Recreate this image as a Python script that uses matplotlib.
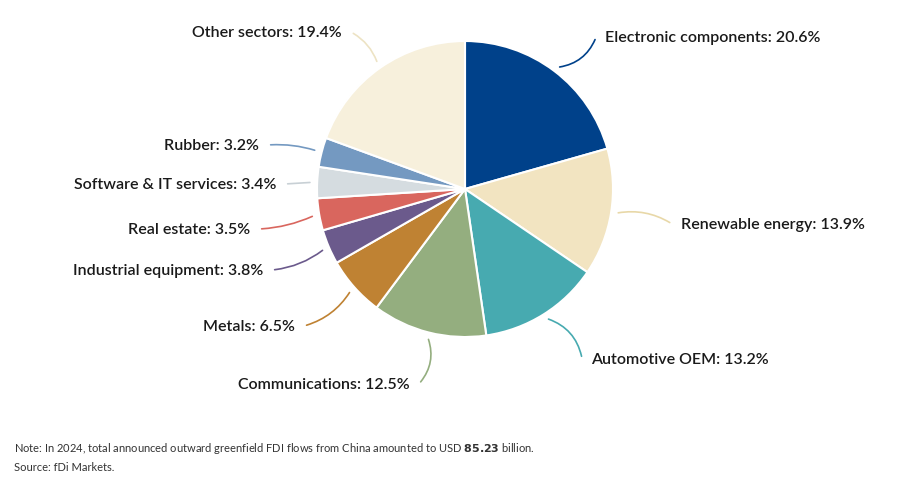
import numpy as np
import matplotlib.pyplot as plt

plt.rcParams['font.family'] = ['Lato', 'DejaVu Sans']

sectors = ['Electronic components', 'Renewable energy', 'Automotive OEM', 'Communications',
           'Metals', 'Industrial equipment', 'Real estate', 'Software & IT services',
           'Rubber', 'Other sectors']
shares = [20.6, 13.9, 13.2, 12.5, 6.5, 3.8, 3.5, 3.4, 3.2, 19.4]
colors = ['#00418A', '#F2E4C1', '#47AAB0', '#94AE7F', '#BF8233', '#6B5A8C',
          '#D9665E', '#D5DCE0', '#7499C1', '#F7F0DC']
line_colors = ['#00418A', '#E8D8A8', '#47AAB0', '#94AE7F', '#BF8233', '#6B5A8C',
               '#D9665E', '#C8D0D5', '#7499C1', '#EDE3C4']
# label anchor (pixels), alignment, connector curvature
label_px = [(605, 38, 'left', 0.3), (681, 225, 'left', -0.2), (591, 360, 'left', -0.3),
            (410, 385, 'right', -0.3), (295, 327, 'right', -0.2), (263, 271, 'right', -0.15),
            (250, 230, 'right', -0.1), (276, 185, 'right', 0.0), (259, 146, 'right', 0.1),
            (342, 33, 'right', 0.2)]

W, H, R = 907, 481, 148
cx, cy = 465, 190

def px(x, y):
    return (x - cx) / R, (cy - y) / R

fig = plt.figure(figsize=(9.07, 4.81), dpi=100)
ax = fig.add_axes([0, 0, 1, 1])

wedges, _ = ax.pie(shares, colors=colors, startangle=90, counterclock=False,
                   radius=1, wedgeprops=dict(edgecolor='white', linewidth=1.5))
ax.set_aspect('auto')
ax.set_xlim(-cx / R, (W - cx) / R)
ax.set_ylim(-(H - cy) / R, cy / R)
ax.axis('off')

for w, name, val, (lx, ly, ha, rad), lc in zip(wedges, sectors, shares, label_px, line_colors):
    ang = np.deg2rad((w.theta1 + w.theta2) / 2)
    sx, sy = 1.03 * np.cos(ang), 1.03 * np.sin(ang)
    tx, ty = px(lx, ly)
    end_x = tx - 0.06 if ha == 'left' else tx + 0.06
    ax.annotate('', xy=(end_x, ty), xytext=(sx, sy),
                arrowprops=dict(arrowstyle='-', color=lc, lw=1.2,
                                connectionstyle=f'arc3,rad={rad}'))
    ax.text(tx, ty, f'{name}: {val}%', ha=ha, va='center', fontsize=11.5,
            fontweight='semibold', color='#1a1a1a')

fig.text(14 / W, 1 - 448 / H, 'Note: In 2024, total announced outward greenfield FDI flows from China amounted to USD $\\bf{85.23}$ billion.',
         fontsize=8, va='center', color='#333333')
fig.text(14 / W, 1 - 468 / H, 'Source: fDi Markets.', fontsize=8, va='center', color='#333333')

fig.savefig('out.png', dpi=100)
